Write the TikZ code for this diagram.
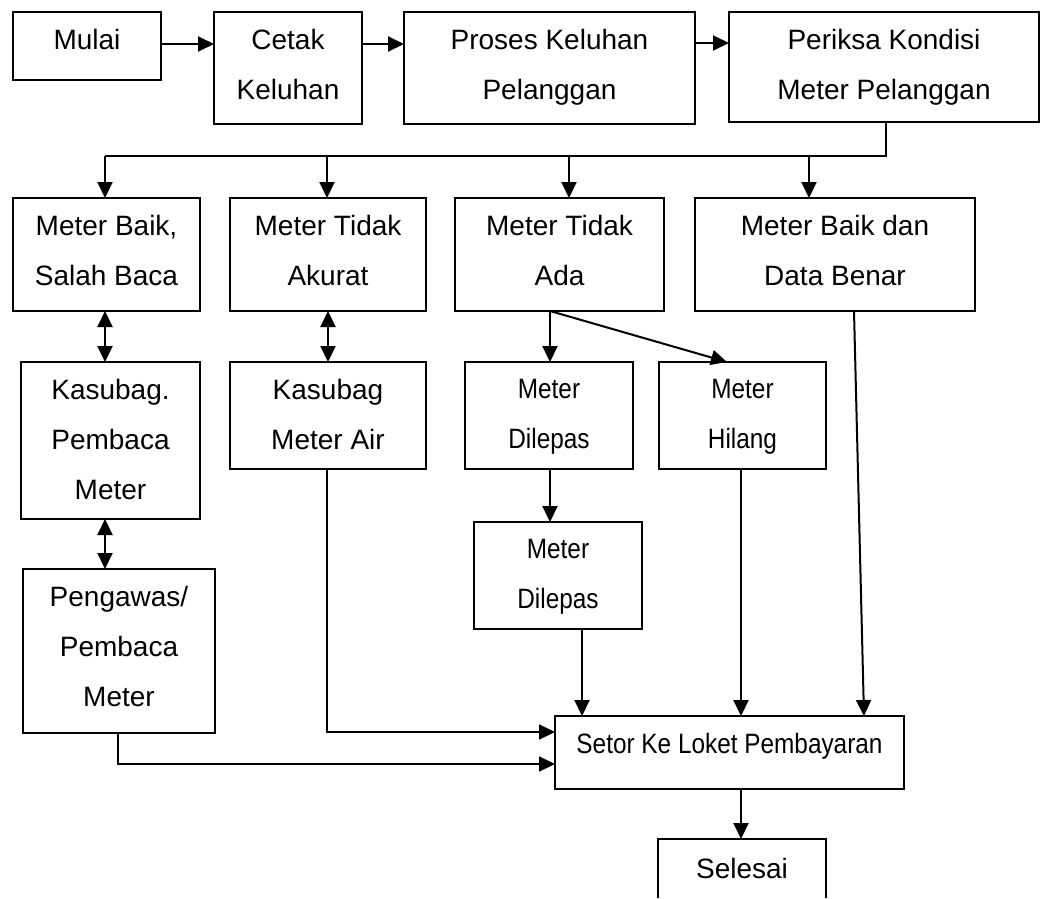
\documentclass[tikz,border=0pt]{standalone}
\usepackage{fontspec}
\setmainfont{Liberation Sans}
\newfontfamily\narrowfont[FakeStretch=0.87]{Liberation Sans}
\usetikzlibrary{arrows.meta}
\begin{document}
\begin{tikzpicture}[x=1pt,y=-1pt,
  box/.style={draw,line width=2pt,inner sep=0pt,outer sep=0pt},
  lbl/.style={anchor=north,yshift=-17pt,align=center,inner sep=0pt,font=\fontsize{28}{50}\selectfont},
  nlbl/.style={lbl,font=\narrowfont\fontsize{28}{50}\selectfont},
  line/.style={line width=2pt},
  arr/.style={line width=2pt,-{Triangle[length=16pt,width=15pt]}},
  darr/.style={line width=2pt,{Triangle[length=16pt,width=15pt]}-{Triangle[length=16pt,width=15pt]}}
]
\useasboundingbox (0,0) rectangle (1058,898);

% row 1
\node[box,minimum width=148pt,minimum height=68pt,label={[lbl]north:Mulai}] (mulai) at (87,46) {};
\node[box,minimum width=148pt,minimum height=112pt,label={[lbl]north:{Cetak\\Keluhan}}] (cetak) at (288,68) {};
\node[box,minimum width=291pt,minimum height=112pt,label={[lbl]north:{Proses Keluhan\\Pelanggan}}] (proses) at (549.5,68) {};
\node[box,minimum width=310pt,minimum height=110pt,label={[lbl]north:{Periksa Kondisi\\Meter Pelanggan}}] (periksa) at (884,67) {};

% row 2
\node[box,minimum width=187pt,minimum height=113pt,label={[lbl]north:{Meter Baik,\\Salah Baca}}] (baik) at (106.5,254.5) {};
\node[box,minimum width=196pt,minimum height=113pt,label={[lbl]north:{Meter Tidak\\Akurat}}] (akurat) at (328,254.5) {};
\node[box,minimum width=209pt,minimum height=113pt,label={[lbl]north:{Meter Tidak\\Ada}}] (ada) at (559.5,254.5) {};
\node[box,minimum width=280pt,minimum height=113pt,label={[lbl]north:{Meter Baik dan\\Data Benar}}] (benar) at (835,254.5) {};

% row 3
\node[box,minimum width=179pt,minimum height=157pt,label={[lbl]north:{Kasubag.\\Pembaca\\Meter}}] (kpm) at (110.5,440.5) {};
\node[box,minimum width=196pt,minimum height=107pt,label={[lbl]north:{Kasubag\\Meter Air}}] (kma) at (328,415.5) {};
\node[box,minimum width=168pt,minimum height=107pt,label={[nlbl]north:{Meter\\Dilepas}}] (dilepasa) at (549,415.5) {};
\node[box,minimum width=167pt,minimum height=107pt,label={[nlbl]north:{Meter\\Hilang}}] (hilang) at (742.5,415.5) {};

% row 4
\node[box,minimum width=192pt,minimum height=164pt,label={[lbl]north:{Pengawas/\\Pembaca\\Meter}}] (pengawas) at (119,651) {};
\node[box,minimum width=168pt,minimum height=107pt,label={[nlbl]north:{Meter\\Dilepas}}] (dilepasb) at (558,575.5) {};

% bottom
\node[box,minimum width=349pt,minimum height=73pt,label={[nlbl]north:{Setor Ke Loket Pembayaran}}] (setor) at (729.5,752.5) {};
\node[inner sep=0pt,outer sep=0pt,minimum width=168pt,minimum height=59pt,label={[lbl,yshift=-2pt]north:Selesai}] (selesai) at (742,868.5) {};
\draw[line] (selesai.south west) -- (selesai.north west) -- (selesai.north east) -- (selesai.south east);

% row 1 connectors
\draw[arr] ([yshift=2pt]mulai.east) -- ([yshift=2pt]mulai.east -| cetak.west);
\draw[arr] ([yshift=24pt]cetak.east) -- ([yshift=24pt]cetak.east -| proses.west);
\draw[arr] ([yshift=25pt]proses.east) -- ([yshift=25pt]proses.east -| periksa.west);

% bus
\coordinate (b1) at (105,156);
\coordinate (b2) at (327,156);
\coordinate (b3) at (569,156);
\coordinate (b4) at (809,156);
\draw[line] ([xshift=2pt]periksa.south) |- (b1);
\draw[arr] (b1) -- (b1 |- baik.north);
\draw[arr] (b2) -- (b2 |- akurat.north);
\draw[arr] (b3) -- (b3 |- ada.north);
\draw[arr] (b4) -- (b4 |- benar.north);

% double arrows
\draw[darr] ([xshift=-1.5pt]baik.south) -- ([xshift=-1.5pt]baik.south |- kpm.north);
\draw[darr] (akurat.south) -- (kma.north);
\draw[darr] ([xshift=-1.5pt]baik.south |- kpm.south) -- ([xshift=-1.5pt]baik.south |- pengawas.north);

% meter tidak ada branches
\draw[arr] ([xshift=1pt]dilepasa.north |- ada.south) -- ([xshift=1pt]dilepasa.north);
\draw[arr] ([xshift=1pt]dilepasa.north |- ada.south) -- ([xshift=-15.5pt]hilang.north);
\draw[arr] ([xshift=1pt]dilepasa.south) -- ([xshift=1pt]dilepasa.south |- dilepasb.north);

% into setor
\draw[arr] ([xshift=24pt]dilepasb.south) -- ([xshift=24pt]dilepasb.south |- setor.north);
\draw[arr] ([xshift=-1.5pt]hilang.south) -- ([xshift=-1.5pt]hilang.south |- setor.north);
\draw[arr] ([xshift=19pt]benar.south) -- ([xshift=134.5pt]setor.north);
\draw[arr] ([xshift=-1pt]kma.south) |- ([yshift=20.5pt]setor.west);
\draw[arr] ([xshift=-1pt]pengawas.south) |- ([yshift=-11.5pt]setor.west);
\draw[arr] ([xshift=11.5pt]setor.south) -- ([xshift=11.5pt]setor.south |- selesai.north);
\end{tikzpicture}
\end{document}
